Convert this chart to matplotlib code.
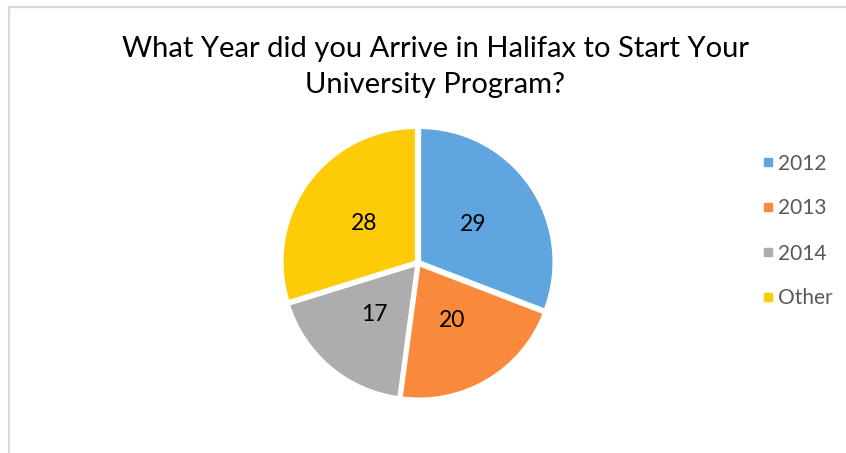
import numpy as np
import matplotlib
matplotlib.use("Agg")
import matplotlib.pyplot as plt
from matplotlib.lines import Line2D

categories = ["2012", "2013", "2014", "Other"]
counts = [29, 20, 17, 28]
colors = ["#5fa5e0", "#f98a3c", "#adadad", "#fecb08"]
title = "What Year did you Arrive in Halifax to Start Your\nUniversity Program?"

W, H = 846, 453
fig = plt.figure(figsize=(W / 100, H / 100), dpi=100)
fig.patch.set_facecolor("white")

# chart area frame (light gray left and top edges)
fig.add_artist(Line2D([8.5 / W, 8.5 / W], [0, 1 - 6.5 / H], color="#d9d9d9", lw=1.6,
                      transform=fig.transFigure))
fig.add_artist(Line2D([8.5 / W, 1], [1 - 6.5 / H, 1 - 6.5 / H], color="#d9d9d9", lw=1.6,
                      transform=fig.transFigure))

cx, cy, r = 418, 263, 137
ax = fig.add_axes([(cx - r) / W, (H - cy - r) / H, 2 * r / W, 2 * r / H])
wedges, _ = ax.pie(counts, colors=colors, startangle=90, counterclock=False,
                   explode=[0.015] * 4,
                   wedgeprops=dict(edgecolor="white", linewidth=2.2))
ax.set_xlim(-1.02, 1.02)
ax.set_ylim(-1.02, 1.02)
ax.set_aspect("equal")
ax.axis("off")

for w, v in zip(wedges, counts):
    mid = np.deg2rad((w.theta1 + w.theta2) / 2)
    ax.text(0.5 * np.cos(mid), 0.5 * np.sin(mid), str(v), ha="center", va="center",
            fontsize=16.5, family="Lato", color="black")

fig.text(435 / W, 1 - 67 / H, title, ha="center", va="center", fontsize=21,
         family="Lato", color="black", linespacing=1.5)

handles = [Line2D([0], [0], marker="s", linestyle="none", markersize=6,
                  markerfacecolor=c, markeredgecolor=c) for c in colors]
leg = fig.legend(handles, categories, loc="center left",
                 bbox_to_anchor=(743 / W, 1 - 231 / H), frameon=False,
                 prop=dict(family="Lato", size=15), labelcolor="#595959",
                 handlelength=0.6, handletextpad=0.2, labelspacing=1.2)

fig.savefig("out.png", dpi=100, facecolor="white")
